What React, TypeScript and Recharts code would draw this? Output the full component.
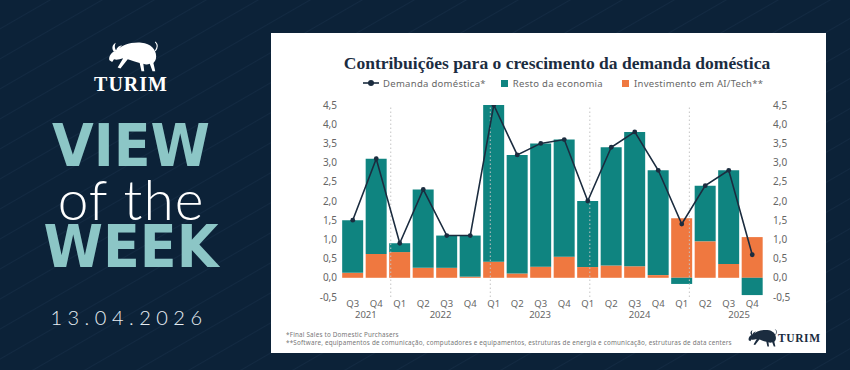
import React from 'react';
import { ComposedChart, Bar, Line, XAxis, YAxis, ReferenceLine } from 'recharts';

const quarters = ['Q3', 'Q4', 'Q1', 'Q2', 'Q3', 'Q4', 'Q1', 'Q2', 'Q3', 'Q4', 'Q1', 'Q2', 'Q3', 'Q4', 'Q1', 'Q2', 'Q3', 'Q4'];
const years = ['2021', '2021', '2022', '2022', '2022', '2022', '2023', '2023', '2023', '2023', '2024', '2024', '2024', '2024', '2025', '2025', '2025', '2025'];
const aiTech = [0.13, 0.62, 0.67, 0.26, 0.26, 0.03, 0.42, 0.11, 0.29, 0.55, 0.28, 0.32, 0.3, 0.07, 1.55, 0.95, 0.36, 1.06];
const restOfEconomy = [1.37, 2.48, 0.23, 2.04, 0.84, 1.07, 4.08, 3.09, 3.21, 3.05, 1.72, 3.08, 3.5, 2.73, -0.16, 1.45, 2.44, -0.45];
const domesticDemand = [1.5, 3.1, 0.9, 2.3, 1.1, 1.1, 4.5, 3.2, 3.5, 3.6, 2.0, 3.4, 3.8, 2.8, 1.4, 2.4, 2.8, 0.6];
const yTicks = [-0.5, 0, 0.5, 1, 1.5, 2, 2.5, 3, 3.5, 4, 4.5];

const NAVY = '#0c2238';
const INK = '#1b2c3f';
const TEAL = '#0f8480';
const ORANGE = '#ef7840';
const MINT = '#8cc6c6';

const data = quarters.map((q, i) => ({
  period: `${q} ${years[i]}`,
  ai: aiTech[i],
  rest: restOfEconomy[i],
  demand: domesticDemand[i],
}));

// group quarters by year -> centre of each group and the dividers between years
const yearGroups: { year: string; start: number; end: number }[] = [];
years.forEach((y, i) => {
  const g = yearGroups[yearGroups.length - 1];
  if (g && g.year === y) g.end = i + 1;
  else yearGroups.push({ year: y, start: i, end: i + 1 });
});
const yearTicks = yearGroups.map((g) => (g.start + g.end) / 2);
const yearDividers = yearGroups.slice(1).map((g) => g.start);

const fmt = (v: number) => v.toFixed(1).replace('.', ',');
const AXIS_FONT = '"Noto Sans", sans-serif';

function Bull({ color, width, height }: { color: string; width: number; height: number }) {
  return (
    <svg width={width} height={height} viewBox="0 0 60 36">
      <path
        fill={color}
        d="M14 12 C20 6 30 2 42 3 C52 4 58 10 58 18 C58 22 56 24 55 25 L57 34 L54 34 L51 26 C49 27 46 27 44 26 L45 34 L42 34 L40 25 C35 24 30 22 27 21 L19 31 L16 30 L22 20 C18 21 15 22 12 21 L10 24 L7 22 C6 19 8 15 11 13 Z"
      />
      <path fill={color} d="M12 13 C9 9 10 5 14 3 C12 7 13 10 15 12 Z" />
      <path fill={color} d="M14 12 C15 8 18 6 21 6 C18 8 17 10 17 12 Z" />
      <path fill="none" stroke={color} strokeWidth={1.2} d="M57 12 C60 8 60 5 57 2" />
    </svg>
  );
}

function Legend() {
  const txt: React.CSSProperties = { fontSize: 9.5, color: '#666', letterSpacing: 0.3, fontFamily: AXIS_FONT };
  return (
    <div style={{ position: 'absolute', left: 92, top: 44, height: 12, display: 'flex', alignItems: 'center', whiteSpace: 'nowrap' }}>
      <svg width={16} height={8} style={{ marginRight: 4 }}>
        <line x1={0} y1={4} x2={16} y2={4} stroke={INK} strokeWidth={1.6} />
        <circle cx={8} cy={4} r={3} fill={INK} />
      </svg>
      <span style={txt}>Demanda doméstica*</span>
      <span style={{ width: 7, height: 7, background: TEAL, marginLeft: 15, marginRight: 5 }} />
      <span style={txt}>Resto da economia</span>
      <span style={{ width: 7, height: 7, background: ORANGE, marginLeft: 19, marginRight: 5 }} />
      <span style={txt}>Investimento em AI/Tech**</span>
    </div>
  );
}

const bigWord: React.CSSProperties = {
  position: 'absolute',
  left: 0,
  width: 262,
  textAlign: 'center',
  color: MINT,
  fontFamily: '"DejaVu Sans", sans-serif',
  fontWeight: 700,
  fontSize: 58,
  letterSpacing: 0,
  lineHeight: '46px',
  transform: 'scaleX(0.93)',
  transformOrigin: '131px 0',
};

export default function App() {
  return (
    <div
      style={{
        position: 'absolute',
        left: 0,
        top: 0,
        width: 850,
        height: 370,
        overflow: 'hidden',
        background: `repeating-linear-gradient(150deg, ${NAVY} 0px, ${NAVY} 24px, #132a42 25px, ${NAVY} 26px)`,
      }}
    >
      {/* left panel */}
      <div style={{ position: 'absolute', left: 103, top: 40 }}>
        <Bull color="#fff" width={55} height={33} />
      </div>
      <div style={{ position: 'absolute', left: 0, width: 262, top: 73, textAlign: 'center', color: '#fff', fontFamily: '"Liberation Serif", serif', fontWeight: 700, fontSize: 20, letterSpacing: 1, lineHeight: '22px' }}>
        TURIM
      </div>
      <div style={{ ...bigWord, top: 123 }}>VIEW</div>
      <div style={{ position: 'absolute', left: 0, width: 262, top: 179, textAlign: 'center', color: '#fff', fontFamily: 'Lato, sans-serif', fontWeight: 300, fontSize: 55, letterSpacing: 1, lineHeight: '40px' }}>
        of the
      </div>
      <div style={{ ...bigWord, top: 224 }}>WEEK</div>
      <div style={{ position: 'absolute', left: 0, width: 258, top: 305, textAlign: 'center', color: '#e8eef3', fontFamily: 'Lato, sans-serif', fontWeight: 300, fontSize: 20, letterSpacing: 5.5, lineHeight: '24px' }}>
        13.04.2026
      </div>

      {/* chart card */}
      <div style={{ position: 'absolute', left: 271, top: 33, width: 555, height: 320, background: '#fff' }}>
        <div style={{ position: 'absolute', left: 17, width: 538, top: 19, textAlign: 'center', color: INK, fontFamily: '"Liberation Serif", serif', fontWeight: 700, fontSize: 17.5, lineHeight: '22px' }}>
          Contribuições para o crescimento da demanda doméstica
        </div>
        <Legend />
        <ComposedChart
          width={555}
          height={320}
          data={data}
          stackOffset="sign"
          barCategoryGap="5%"
          margin={{ top: 72, right: 0, bottom: 0, left: 0 }}
          style={{ position: 'absolute', left: 0, top: 0 }}
        >
          <XAxis
            xAxisId="cat"
            dataKey="period"
            interval={0}
            height={12}
            axisLine={false}
            tickLine={false}
            tickSize={0}
            tickMargin={3}
            tickFormatter={(v: string) => v.split(' ')[0]}
            tick={{ fontSize: 9.5, fill: '#666', fontFamily: AXIS_FONT }}
          />
          <XAxis
            xAxisId="yr"
            type="number"
            domain={[0, quarters.length]}
            allowDataOverflow
            ticks={yearTicks}
            interval={0}
            height={44}
            axisLine={false}
            tickLine={false}
            tickSize={0}
            tickMargin={2.5}
            tickFormatter={(v: number) => yearGroups[yearTicks.indexOf(v)]?.year ?? ''}
            tick={{ fontSize: 9.5, fill: '#666', fontFamily: AXIS_FONT }}
          />
          <YAxis
            yAxisId="l"
            width={70}
            domain={[-0.5, 4.5]}
            ticks={yTicks}
            interval={0}
            axisLine={false}
            tickLine={false}
            tickSize={0}
            tickMargin={4}
            tickFormatter={fmt}
            tick={{ fontSize: 10, fill: '#666', fontFamily: AXIS_FONT }}
          />
          <YAxis
            yAxisId="r"
            orientation="right"
            width={62}
            domain={[-0.5, 4.5]}
            allowDataOverflow
            ticks={yTicks}
            interval={0}
            axisLine={false}
            tickLine={false}
            tickSize={0}
            tickMargin={9}
            tickFormatter={fmt}
            tick={{ fontSize: 10, fill: '#666', fontFamily: AXIS_FONT }}
          />
          {yearDividers.map((x) => (
            <ReferenceLine key={x} xAxisId="yr" yAxisId="l" x={x} stroke="#c4c4c4" strokeDasharray="1.5 2.5" />
          ))}
          <Bar xAxisId="cat" yAxisId="l" dataKey="ai" stackId="s" fill={ORANGE} isAnimationActive={false} />
          <Bar xAxisId="cat" yAxisId="l" dataKey="rest" stackId="s" fill={TEAL} isAnimationActive={false} />
          <Line
            xAxisId="cat"
            yAxisId="r"
            type="linear"
            dataKey="demand"
            stroke={INK}
            strokeWidth={1.6}
            dot={{ r: 2.4, fill: INK, stroke: INK, strokeWidth: 0 }}
            isAnimationActive={false}
          />
        </ComposedChart>
        <div style={{ position: 'absolute', left: 15, top: 298, color: '#777', fontFamily: AXIS_FONT, fontSize: 6.3, letterSpacing: 0.2, lineHeight: '8px', whiteSpace: 'nowrap' }}>
          <div>*Final Sales to Domestic Purchasers</div>
          <div>**Software, equipamentos de comunicação, computadores e equipamentos, estruturas de energia e comunicação, estruturas de data centers</div>
        </div>
        <div style={{ position: 'absolute', left: 474, top: 295 }}>
          <Bull color={INK} width={32} height={20} />
        </div>
        <div style={{ position: 'absolute', left: 507, top: 298, color: INK, fontFamily: '"Liberation Serif", serif', fontWeight: 700, fontSize: 11.5, letterSpacing: 0.6, lineHeight: '14px' }}>
          TURIM
        </div>
      </div>
    </div>
  );
}
